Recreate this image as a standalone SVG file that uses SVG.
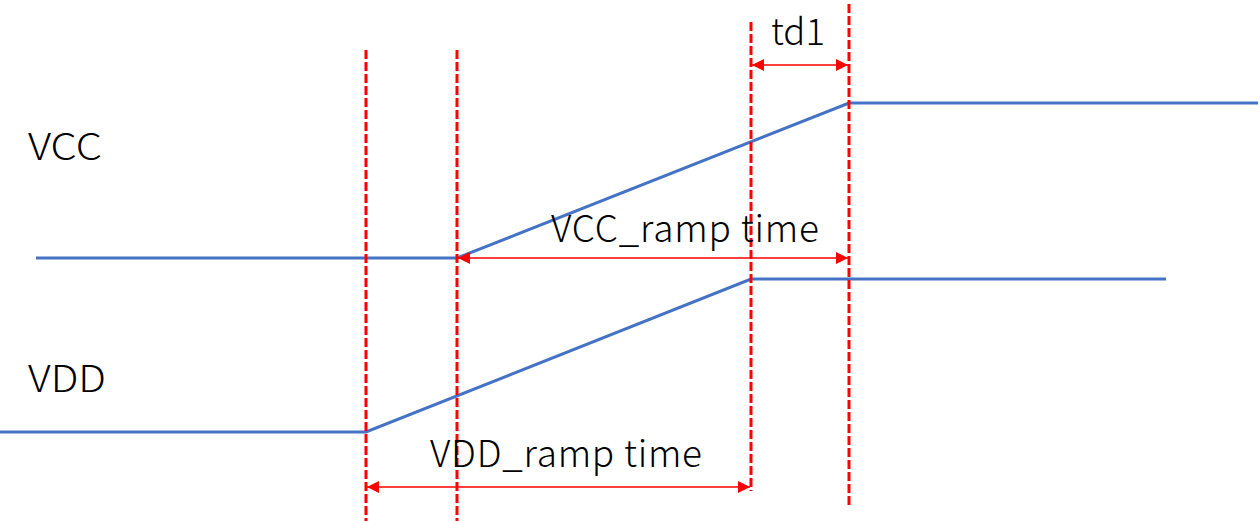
<svg xmlns="http://www.w3.org/2000/svg" width="1260" height="521" viewBox="0 0 1260 521">
<style>
.guide{stroke:#FF0000;stroke-width:3;stroke-dasharray:9 3;fill:none}
.sig{stroke:#4472C4;stroke-width:3;fill:none;stroke-linejoin:miter}
.dim{stroke:#FF0000;stroke-width:1.5;fill:none}
text{font-family:"Noto Sans CJK JP","Noto Sans",sans-serif;font-size:37px;font-weight:300;fill:#000}
</style>
<defs>
<marker id="ah" viewBox="0 0 12 12" refX="12" refY="6" markerWidth="12" markerHeight="12" markerUnits="userSpaceOnUse" orient="auto-start-reverse">
<path d="M0,0 L12,6 L0,12 Z" fill="#FF0000"/>
</marker>
</defs>
<rect width="1260" height="521" fill="#fff"/>
<g id="signals">
<polyline id="vcc" class="sig" points="36,258 457,258 849,103 1258,103"/>
<polyline id="vdd" class="sig" points="0,432 366,432 751,279 1166,279"/>
</g>
<g id="guides">
<line class="guide" x1="366" y1="50" x2="366" y2="521"/>
<line class="guide" x1="457" y1="50" x2="457" y2="521"/>
<line class="guide" x1="751" y1="22" x2="751" y2="491"/>
<line class="guide" x1="849" y1="4" x2="849" y2="505"/>
</g>
<g id="connectors">
<line class="dim" x1="752" y1="65" x2="848" y2="65" marker-start="url(#ah)" marker-end="url(#ah)"/>
<line class="dim" x1="458" y1="258" x2="848" y2="258" marker-start="url(#ah)" marker-end="url(#ah)"/>
<line class="dim" x1="367" y1="487" x2="750" y2="487" marker-start="url(#ah)" marker-end="url(#ah)"/>
</g>
<g id="labels">
<text x="28" y="160" textLength="74" lengthAdjust="spacingAndGlyphs">VCC</text>
<text x="28" y="392" textLength="78" lengthAdjust="spacingAndGlyphs">VDD</text>
<text x="771" y="45" textLength="54" lengthAdjust="spacingAndGlyphs">td1</text>
<text x="551" y="242" textLength="268" lengthAdjust="spacing">VCC_ramp time</text>
<text x="430" y="467" textLength="272" lengthAdjust="spacing">VDD_ramp time</text>
</g>
</svg>
